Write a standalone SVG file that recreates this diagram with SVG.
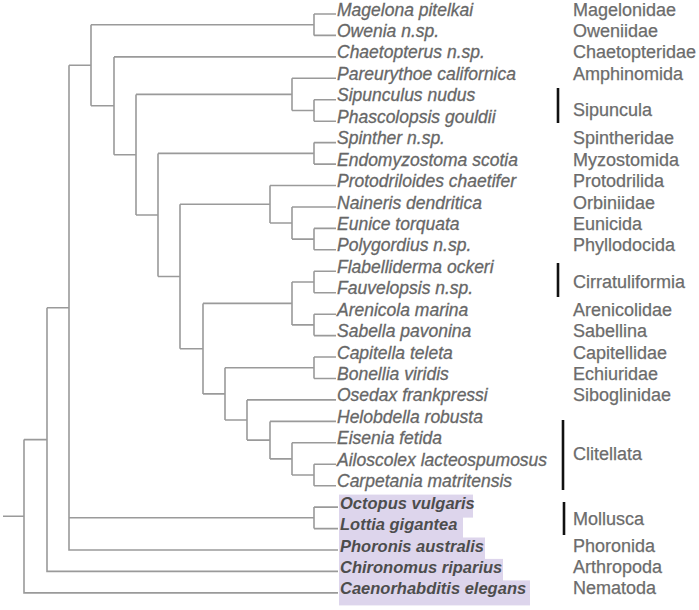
<svg xmlns="http://www.w3.org/2000/svg" width="699" height="610" viewBox="0 0 699 610">
<style>
.br{fill:none;stroke:#9a9a9a;stroke-width:1.6}
.sp{font-family:"Liberation Sans",Arial,sans-serif;font-style:italic;font-size:17.5px;fill:#676767;stroke:#676767;stroke-width:0.3}
.hl{font-family:"Liberation Sans",Arial,sans-serif;font-style:italic;font-weight:bold;font-size:16.5px;fill:#4d4d4d}
.gr{font-family:"Liberation Sans",Arial,sans-serif;font-size:18px;fill:#6c6c6c;stroke:#6c6c6c;stroke-width:0.25}
.bx{fill:#ddd5ec}
.bar{stroke:#111;stroke-width:2.6}
</style>
<rect width="699" height="610" fill="#fff"/>
<g id="highlights">
<rect class="bx" x="339" y="494.6" width="134" height="23"/>
<rect class="bx" x="339" y="516" width="124" height="23"/>
<rect class="bx" x="339" y="537.5" width="146" height="23"/>
<rect class="bx" x="339" y="558.9" width="164" height="23"/>
<rect class="bx" x="339" y="580.4" width="191" height="25"/>
</g>
<g id="connectors">
<path class="br" d="M3,516.2H24M24,439.6V592.9H338M24,439.6H47
M47,307.7V571.4H338M47,307.7H69
M69,65.3V550H338M69,517.8H314M69,65.3H91
M314,507.1V528.6M314,507.1H338M314,528.6H338
M91,24.7V105.8M91,24.7H314M91,105.8H114
M314,14V35.4M314,14H336M314,35.4H336
M114,56.9V154.7M114,56.9H336M114,154.7H136
M136,94.4V215M136,94.4H292M136,215H158
M292,78.3V110.5M292,78.3H336M292,110.5H314
M314,99.8V121.2M314,99.8H336M314,121.2H336
M158,153.4V276.5M158,153.4H314M158,276.5H180
M314,142.6V164.1M314,142.6H336M314,164.1H336
M180,204.3V348.7M180,204.3H270M180,348.7H203
M270,185.5V223M270,185.5H336M270,223H292
M292,207V239.1M292,207H336M292,239.1H314
M314,228.4V249.8M314,228.4H336M314,249.8H336
M203,303.4V393.9M203,303.4H292M203,393.9H225
M292,282V324.9M292,282H314M292,324.9H314
M314,271.3V292.7M314,271.3H336M314,292.7H336
M314,314.2V335.6M314,314.2H336M314,335.6H336
M225,367.8V420M225,367.8H314M225,420H247
M314,357V378.5M314,357H336M314,378.5H336
M247,399.9V440.1M247,399.9H336M247,440.1H270
M270,421.4V458.9M270,421.4H336M270,458.9H292
M292,442.8V475M292,442.8H336M292,475H314
M314,464.2V485.7M314,464.2H336M314,485.7H336"/>
</g>
<g id="taxa">
<g id="t-magelona"><text class="sp" x="337" y="16.3">Magelona pitelkai</text><text class="gr" x="573" y="16.3">Magelonidae</text></g>
<g id="t-owenia"><text class="sp" x="337" y="36.9">Owenia n.sp.</text><text class="gr" x="573" y="36.9">Oweniidae</text></g>
<g id="t-chaetopterus"><text class="sp" x="337" y="58.4">Chaetopterus n.sp.</text><text class="gr" x="573" y="58.4">Chaetopteridae</text></g>
<g id="t-pareurythoe"><text class="sp" x="337" y="79.8">Pareurythoe californica</text><text class="gr" x="573" y="79.8">Amphinomida</text></g>
<g id="t-sipunculus"><text class="sp" x="337" y="101.3">Sipunculus nudus</text></g>
<g id="t-phascolopsis"><text class="sp" x="337" y="122.7">Phascolopsis gouldii</text></g>
<g id="t-spinther"><text class="sp" x="337" y="144.1">Spinther n.sp.</text><text class="gr" x="573" y="144.1">Spintheridae</text></g>
<g id="t-endomyzostoma"><text class="sp" x="337" y="165.6">Endomyzostoma scotia</text><text class="gr" x="573" y="165.6">Myzostomida</text></g>
<g id="t-protodriloides"><text class="sp" x="337" y="187">Protodriloides chaetifer</text><text class="gr" x="573" y="187">Protodrilida</text></g>
<g id="t-naineris"><text class="sp" x="337" y="208.5">Naineris dendritica</text><text class="gr" x="573" y="208.5">Orbiniidae</text></g>
<g id="t-eunice"><text class="sp" x="337" y="229.9">Eunice torquata</text><text class="gr" x="573" y="229.9">Eunicida</text></g>
<g id="t-polygordius"><text class="sp" x="337" y="251.3">Polygordius n.sp.</text><text class="gr" x="573" y="251.3">Phyllodocida</text></g>
<g id="t-flabelliderma"><text class="sp" x="337" y="272.8">Flabelliderma ockeri</text></g>
<g id="t-fauvelopsis"><text class="sp" x="337" y="294.2">Fauvelopsis n.sp.</text></g>
<g id="t-arenicola"><text class="sp" x="337" y="315.7">Arenicola marina</text><text class="gr" x="573" y="315.7">Arenicolidae</text></g>
<g id="t-sabella"><text class="sp" x="337" y="337.1">Sabella pavonina</text><text class="gr" x="573" y="337.1">Sabellina</text></g>
<g id="t-capitella"><text class="sp" x="337" y="358.5">Capitella teleta</text><text class="gr" x="573" y="358.5">Capitellidae</text></g>
<g id="t-bonellia"><text class="sp" x="337" y="380">Bonellia viridis</text><text class="gr" x="573" y="380">Echiuridae</text></g>
<g id="t-osedax"><text class="sp" x="337" y="401.4">Osedax frankpressi</text><text class="gr" x="573" y="401.4">Siboglinidae</text></g>
<g id="t-helobdella"><text class="sp" x="337" y="422.9">Helobdella robusta</text></g>
<g id="t-eisenia"><text class="sp" x="337" y="444.3">Eisenia fetida</text></g>
<g id="t-ailoscolex"><text class="sp" x="337" y="465.7">Ailoscolex lacteospumosus</text></g>
<g id="t-carpetania"><text class="sp" x="337" y="487.2">Carpetania matritensis</text></g>
<g id="t-octopus"><text class="hl" x="340" y="508.6">Octopus vulgaris</text></g>
<g id="t-lottia"><text class="hl" x="340" y="530.1">Lottia gigantea</text></g>
<g id="t-phoronis"><text class="hl" x="340" y="551.5">Phoronis australis</text><text class="gr" x="573" y="551.5">Phoronida</text></g>
<g id="t-chironomus"><text class="hl" x="340" y="572.9">Chironomus riparius</text><text class="gr" x="573" y="572.9">Arthropoda</text></g>
<g id="t-caenorhabditis"><text class="hl" x="340" y="594.4">Caenorhabditis elegans</text><text class="gr" x="573" y="594.4">Nematoda</text></g>
</g>
<g id="groups">
<g id="g-sipuncula"><line class="bar" x1="558" y1="88" x2="558" y2="123"/><text class="gr" x="573" y="116">Sipuncula</text></g>
<g id="g-cirratuliformia"><line class="bar" x1="558" y1="263" x2="558" y2="297"/><text class="gr" x="573" y="287.5">Cirratuliformia</text></g>
<g id="g-clitellata"><line class="bar" x1="563" y1="420" x2="563" y2="490"/><text class="gr" x="573" y="459.5">Clitellata</text></g>
<g id="g-mollusca"><line class="bar" x1="564" y1="502" x2="564" y2="535"/><text class="gr" x="573" y="524.5">Mollusca</text></g>
</g>
</svg>
